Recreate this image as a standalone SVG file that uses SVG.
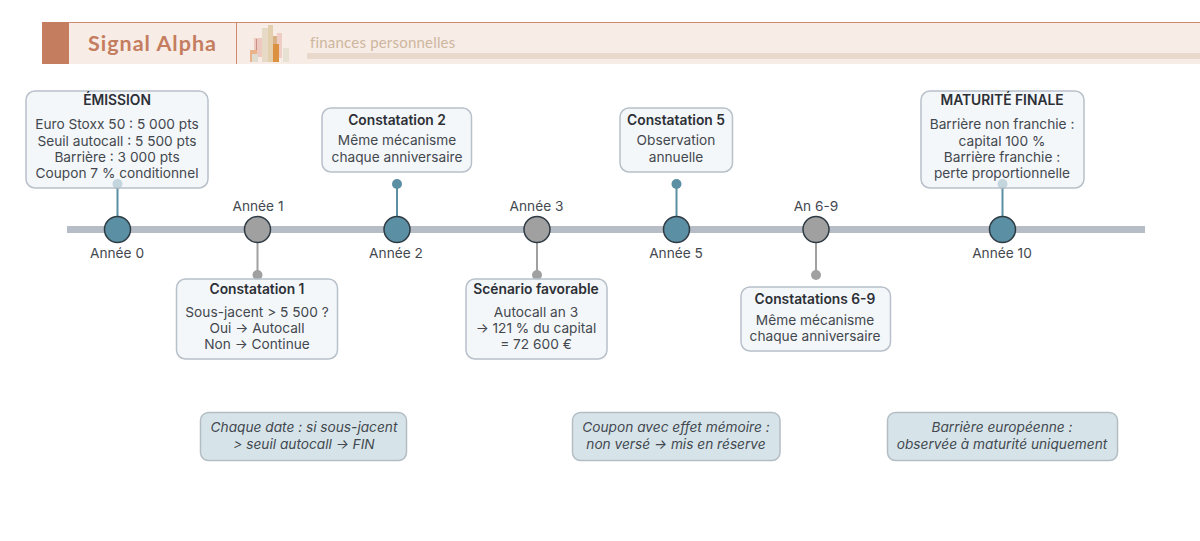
<svg xmlns="http://www.w3.org/2000/svg" width="1200" height="541" viewBox="0 0 1200 541">
<style>
text{font-family:Inter,"Liberation Sans",sans-serif;font-size:13.7px;fill:#43484f;text-anchor:middle}
.t{font-weight:600;fill:#2c3036;font-size:13.8px}
.card{fill:#f0f4f7;fill-opacity:.7;stroke:#b8c0ca;stroke-width:1.5}
.note{fill:#d6e4e9;stroke:#b4bcc4;stroke-width:1.5}
.n{font-style:italic}
.blue{stroke:#5b8fa3;stroke-width:2}
.grey{stroke:#a0a0a0;stroke-width:2}
.nb{fill:#5b8fa3;stroke:#2f3b44;stroke-width:1.5}
.ng{fill:#a0a0a0;stroke:#2f3b44;stroke-width:1.5}
</style>
<g id="header">
<rect x="42" y="22" width="1158" height="42" fill="#f7ece6"/>
<rect x="42" y="22" width="1158" height="1" fill="#d08a70"/>
<rect x="42" y="22" width="27" height="42" fill="#c47d5e"/>
<rect x="236" y="22" width="1" height="42" fill="#d08a70"/>
<rect x="307" y="53" width="893" height="6" fill="#e8d9cc"/>
<rect x="254" y="38" width="8" height="19" fill="#edc9c0"/>
<rect x="256" y="39" width="1" height="17" fill="#c98f88"/>
<rect x="250" y="50" width="7" height="12" fill="#e9b48c"/>
<rect x="252" y="54" width="6" height="8" fill="#e0dccf"/>
<rect x="262" y="28" width="7" height="34" fill="#e6d9c6"/>
<rect x="268" y="25" width="5" height="37" fill="#e3cfae"/>
<rect x="277" y="33" width="5" height="25" fill="#efccc4"/>
<rect x="273" y="36" width="4" height="26" fill="#d8b184"/>
<rect x="273" y="44" width="6" height="18" fill="#dc9141"/>
<rect x="283" y="48" width="6" height="14" fill="#e6e1d3"/>
<text x="152.500" y="50.500" style="font-family:Lato,sans-serif;font-size:21.500px;font-weight:700;fill:#c47d5e;letter-spacing:1px">Signal Alpha</text>
<text x="310" y="47.500" style="font-family:Lato,sans-serif;font-size:15px;fill:#cdb79f;text-anchor:start;letter-spacing:.2px">finances personnelles</text>
</g>
<rect id="axis" x="67" y="226" width="1078" height="7" fill="#b6bdc6"/>
<g id="connectors">
<line class="blue" x1="117.500" y1="184" x2="117.500" y2="217"/><circle cx="117.500" cy="184" r="5" fill="#5b8fa3"/>
<line class="grey" x1="257.500" y1="243" x2="257.500" y2="275"/><circle cx="257.500" cy="275" r="5" fill="#a0a0a0"/>
<line class="blue" x1="397" y1="184" x2="397" y2="217"/><circle cx="397" cy="184" r="5" fill="#5b8fa3"/>
<line class="grey" x1="537" y1="243" x2="537" y2="275"/><circle cx="537" cy="275" r="5" fill="#a0a0a0"/>
<line class="blue" x1="676.500" y1="184" x2="676.500" y2="217"/><circle cx="676.500" cy="184" r="5" fill="#5b8fa3"/>
<line class="grey" x1="816" y1="243" x2="816" y2="275"/><circle cx="816" cy="275" r="5" fill="#a0a0a0"/>
<line class="blue" x1="1002.500" y1="184" x2="1002.500" y2="217"/><circle cx="1002.500" cy="184" r="5" fill="#5b8fa3"/>
</g>
<g id="n0"><circle class="nb" cx="117.500" cy="229.500" r="13"/><text x="117" y="258">Année 0</text></g>
<g id="n1"><circle class="ng" cx="257.500" cy="229.500" r="13"/><text x="258" y="210.500">Année 1</text></g>
<g id="n2"><circle class="nb" cx="397" cy="229.500" r="13"/><text x="396" y="258">Année 2</text></g>
<g id="n3"><circle class="ng" cx="537" cy="229.500" r="13"/><text x="536.500" y="210.500">Année 3</text></g>
<g id="n5"><circle class="nb" cx="676.500" cy="229.500" r="13"/><text x="676" y="258">Année 5</text></g>
<g id="n6"><circle class="ng" cx="816" cy="229.500" r="13"/><text x="816" y="210.500">An 6-9</text></g>
<g id="n10"><circle class="nb" cx="1002.500" cy="229.500" r="13"/><text x="1002" y="258">Année 10</text></g>
<g id="card-emission"><rect class="card" x="26" y="91" width="182" height="97" rx="9"/>
<text class="t" x="117" y="105">ÉMISSION</text><text x="117" y="129">Euro Stoxx 50 : 5 000 pts</text><text x="117" y="145.500">Seuil autocall : 5 500 pts</text><text x="117" y="162">Barrière : 3 000 pts</text><text x="117" y="178">Coupon 7 % conditionnel</text></g>
<g id="card-c1"><rect class="card" x="176.500" y="279" width="161" height="80" rx="9"/>
<text class="t" x="257" y="294">Constatation 1</text><text x="257" y="317">Sous-jacent &gt; 5 500 ?</text><text x="257" y="333">Oui → Autocall</text><text x="257" y="349">Non → Continue</text></g>
<g id="card-c2"><rect class="card" x="322" y="108" width="149.500" height="64" rx="9"/>
<text class="t" x="397" y="125">Constatation 2</text><text x="397" y="145">Même mécanisme</text><text x="397" y="162">chaque anniversaire</text></g>
<g id="card-sf"><rect class="card" x="466" y="279" width="141" height="80" rx="9"/>
<text class="t" x="536" y="294">Scénario favorable</text><text x="536" y="317">Autocall an 3</text><text x="536" y="333">→ 121 % du capital</text><text x="536" y="349">= 72 600 €</text></g>
<g id="card-c5"><rect class="card" x="620" y="108" width="112.500" height="64" rx="9"/>
<text class="t" x="676" y="125">Constatation 5</text><text x="676" y="145">Observation</text><text x="676" y="162">annuelle</text></g>
<g id="card-c6"><rect class="card" x="741" y="287" width="149.500" height="64" rx="9"/>
<text class="t" x="815" y="303.500">Constatations 6-9</text><text x="815" y="325">Même mécanisme</text><text x="815" y="341">chaque anniversaire</text></g>
<g id="card-mat"><rect class="card" x="921" y="91" width="163" height="97" rx="9"/>
<text class="t" x="1002" y="105">MATURITÉ FINALE</text><text x="1002" y="129">Barrière non franchie :</text><text x="1002" y="145.500">capital 100 %</text><text x="1002" y="162">Barrière franchie :</text><text x="1002" y="178">perte proportionnelle</text></g>
<g id="note-1"><rect class="note" x="200.500" y="412.500" width="206" height="48" rx="8"/><text class="n" x="304" y="432">Chaque date : si sous-jacent</text><text class="n" x="304" y="449">&gt; seuil autocall → FIN</text></g>
<g id="note-2"><rect class="note" x="572.500" y="412.500" width="207.500" height="48" rx="8"/><text class="n" x="676" y="432">Coupon avec effet mémoire :</text><text class="n" x="676" y="449">non versé → mis en réserve</text></g>
<g id="note-3"><rect class="note" x="887.500" y="412.500" width="230" height="48" rx="8"/><text class="n" x="1002" y="432">Barrière européenne :</text><text class="n" x="1002" y="449">observée à maturité uniquement</text></g>
</svg>
